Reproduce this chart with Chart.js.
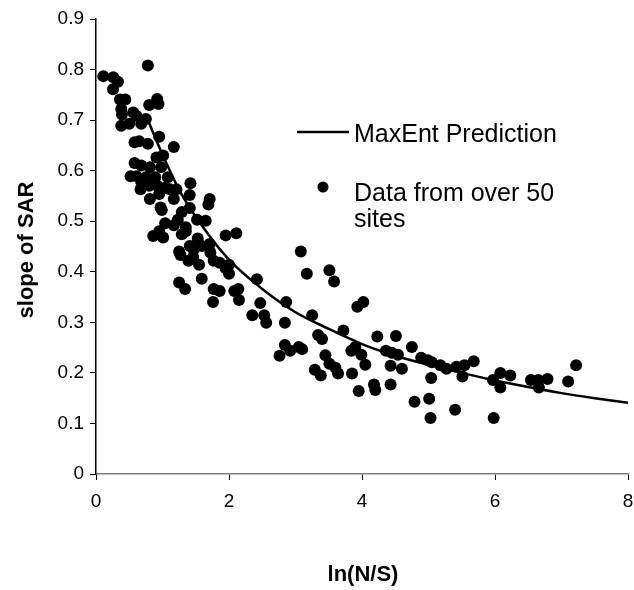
<!DOCTYPE html>
<html>
<head>
<meta charset="utf-8">
<script src="https://cdn.jsdelivr.net/npm/chart.js@4.4.0/dist/chart.umd.min.js"></script>
<style>
  html, body { margin: 0; padding: 0; background: #fff; }
  #wrap { width: 634px; height: 590px; }
</style>
</head>
<body>
<div id="wrap"><canvas id="c" width="634" height="590"></canvas></div>
<script>
// observed sites: ln(N/S) and slope of SAR
const siteX = [0.11, 0.26, 0.255, 0.33, 0.36, 0.44, 0.38, 0.39, 0.38, 0.50, 0.56, 0.61, 0.68, 0.75, 0.78, 0.80, 0.92, 0.94,
  0.58, 0.65, 0.78, 0.95, 1.17, 1.01, 0.91, 0.58, 0.68, 0.81, 0.98, 0.52, 0.61, 0.68, 0.75, 0.89, 1.08, 0.67, 0.80, 0.92,
  1.04, 1.11, 0.81, 0.95, 1.17, 1.21, 1.42, 1.41, 0.97, 0.99, 1.29, 1.41, 1.71, 1.69, 1.04, 1.17, 1.23, 1.52, 1.65, 1.35,
  1.29, 1.35, 0.86, 0.95, 1.01, 1.53, 1.41, 1.47, 1.59, 1.71, 1.72, 1.77, 1.86, 1.95, 2.00, 2.00, 1.25, 1.27, 1.39, 1.46,
  1.55, 1.25, 1.34, 1.59, 1.77, 1.86, 1.76, 1.95, 2.11, 2.08, 2.14, 2.15, 2.42, 2.47, 2.35, 2.53, 2.56, 2.86, 2.84, 2.76,
  2.84, 2.92, 3.05, 3.10, 3.08, 3.17, 3.25, 3.29, 3.38, 3.34, 3.40, 3.45, 3.51, 3.60, 3.64, 3.51, 3.58, 3.72, 3.84, 3.90,
  3.93, 4.02, 3.99, 3.85, 3.95, 4.05, 4.18, 4.20, 4.23, 4.36, 4.45, 4.54, 4.43, 4.43, 4.51, 4.60, 4.75, 4.89, 4.99, 5.05,
  5.18, 5.27, 5.04, 4.79, 5.01, 5.03, 5.40, 5.42, 5.54, 5.51, 5.68, 5.97, 6.08, 6.08, 6.23, 5.98, 6.54, 6.65, 6.66, 6.79,
  7.10, 7.22];
const siteY = [0.787, 0.785, 0.761, 0.776, 0.741, 0.741, 0.722, 0.711, 0.689, 0.693, 0.715, 0.708, 0.693, 0.702, 0.808, 0.730, 0.742, 0.732,
  0.656, 0.658, 0.653, 0.667, 0.647, 0.630, 0.626, 0.615, 0.610, 0.607, 0.607, 0.589, 0.589, 0.578, 0.587, 0.587, 0.587, 0.563, 0.570, 0.570,
  0.566, 0.563, 0.544, 0.554, 0.544, 0.563, 0.575, 0.552, 0.527, 0.522, 0.518, 0.526, 0.544, 0.533, 0.496, 0.492, 0.503, 0.503, 0.501, 0.488,
  0.474, 0.480, 0.471, 0.480, 0.468, 0.466, 0.451, 0.444, 0.451, 0.455, 0.438, 0.422, 0.418, 0.407, 0.414, 0.396, 0.440, 0.433, 0.422, 0.429,
  0.414, 0.379, 0.366, 0.386, 0.366, 0.362, 0.340, 0.472, 0.476, 0.362, 0.366, 0.344, 0.385, 0.338, 0.314, 0.314, 0.299, 0.340, 0.299, 0.234,
  0.255, 0.244, 0.251, 0.247, 0.440, 0.396, 0.314, 0.206, 0.195, 0.275, 0.267, 0.235, 0.218, 0.210, 0.199, 0.403, 0.381, 0.284, 0.244, 0.251,
  0.331, 0.340, 0.236, 0.199, 0.164, 0.216, 0.177, 0.166, 0.272, 0.244, 0.240, 0.236, 0.214, 0.177, 0.273, 0.208, 0.251, 0.230, 0.225, 0.221,
  0.215, 0.208, 0.190, 0.143, 0.149, 0.111, 0.127, 0.212, 0.215, 0.193, 0.223, 0.186, 0.200, 0.171, 0.195, 0.111, 0.186, 0.186, 0.171, 0.188,
  0.183, 0.215];

// MaxEnt prediction curve
const fitX = [0.77, 1.0, 1.25, 1.6, 2.0, 2.5, 3.0, 3.5, 4.0, 4.5, 5.0, 5.5, 6.0, 6.5, 7.0, 7.5, 8.0];
const fitY = [0.703, 0.632, 0.562, 0.490, 0.424, 0.366, 0.320, 0.287, 0.257, 0.234, 0.216, 0.200, 0.185, 0.172, 0.160, 0.150, 0.141];

const xTitle = 'ln(N/S)';
const yTitle = 'slope of SAR';
const lineLabel = 'MaxEnt Prediction';
const dotLabel = ['Data from over 50', 'sites'];

const FONT = 'Arial, "Liberation Sans", Helvetica, sans-serif';

const annotations = {
  id: 'annotations',
  afterDraw(chart) {
    const ctx = chart.ctx;
    ctx.save();
    ctx.fillStyle = '#000';
    ctx.strokeStyle = '#000';

    // axis titles
    ctx.font = 'bold 22px ' + FONT;
    ctx.textAlign = 'center';
    ctx.textBaseline = 'middle';
    ctx.fillText(xTitle, 363, 575);
    ctx.save();
    ctx.translate(27, 250);
    ctx.rotate(-Math.PI / 2);
    ctx.fillText(yTitle, 0, 0);
    ctx.restore();

    // legend
    ctx.lineWidth = 2.5;
    ctx.beginPath();
    ctx.moveTo(297, 132);
    ctx.lineTo(349, 132);
    ctx.stroke();
    ctx.beginPath();
    ctx.arc(323, 187, 5.5, 0, Math.PI * 2);
    ctx.fill();
    ctx.font = '25px ' + FONT;
    ctx.textAlign = 'left';
    ctx.textBaseline = 'alphabetic';
    ctx.fillText(lineLabel, 354, 142);
    ctx.fillText(dotLabel[0], 354, 201);
    ctx.fillText(dotLabel[1], 354, 227);
    ctx.restore();
  }
};

new Chart(document.getElementById('c'), {
  type: 'scatter',
  data: {
    datasets: [
      {
        label: lineLabel,
        type: 'line',
        data: fitX.map((x, i) => ({ x, y: fitY[i] })),
        borderColor: '#000',
        borderWidth: 2.5,
        pointRadius: 0,
        cubicInterpolationMode: 'monotone',
        fill: false,
        order: 0,
      },
      {
        label: dotLabel.join(' '),
        data: siteX.map((x, i) => ({ x, y: siteY[i] })),
        backgroundColor: '#000',
        borderWidth: 0,
        pointRadius: 6,
        order: 1,
      },
    ],
  },
  options: {
    responsive: false,
    animation: false,
    layout: { padding: { top: 19, right: 5, left: 0, bottom: 0 } },
    plugins: { legend: { display: false }, tooltip: { enabled: false } },
    scales: {
      x: {
        type: 'linear',
        min: 0,
        max: 8,
        ticks: { stepSize: 2, color: '#000', font: { family: FONT, size: 19 }, padding: 10, maxRotation: 0 },
        grid: { drawOnChartArea: false, drawTicks: true, tickLength: 6, color: '#000' },
        border: { color: '#808080', width: 1.5 },
        afterFit(s) { s.height = 116; s.paddingLeft = 0; s.paddingRight = 0; },
      },
      y: {
        min: 0,
        max: 0.9,
        ticks: { stepSize: 0.1, color: '#000', font: { family: FONT, size: 19 }, padding: 6 },
        grid: { drawOnChartArea: false, drawTicks: true, tickLength: 6, color: '#000' },
        border: { color: '#000', width: 1.5 },
        afterFit(s) { s.width = 96; s.paddingTop = 0; s.paddingBottom = 0; },
      },
    },
  },
  plugins: [annotations],
});
</script>
</body>
</html>
